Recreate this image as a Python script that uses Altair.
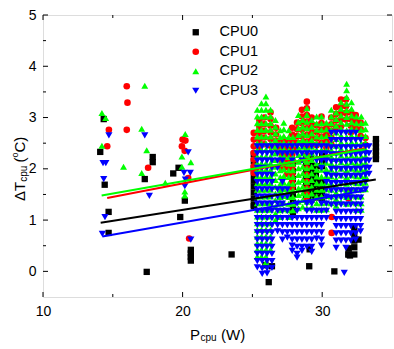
import altair as alt
import pandas as pd

SERIES = ["CPU0", "CPU1", "CPU2", "CPU3"]
COLORS = ["#000000", "#ff0000", "#00ff00", "#0000ff"]
SHAPES = ["square", "circle", "triangle-up", "triangle-down"]
SIZES = [40, 52, 72, 72]

# isolated points (x, y)
CPU0_POINTS = [(14.10, 2.33), (14.35, 2.97), (14.42, 1.69), (14.70, 1.16), (14.70, 0.75),
               (17.29, 1.80), (17.86, 2.23), (17.86, 2.13), (17.43, -0.01), (19.33, 1.91),
               (19.71, 2.02), (19.83, 1.06), (20.16, 1.38), (20.59, 0.42), (20.59, 0.35),
               (20.59, 0.28), (20.59, 0.21), (23.51, 0.33), (25.10, 1.27), (26.17, -0.21),
               (26.40, 0.10), (25.93, 0.12), (29.07, 0.10), (29.10, 0.43), (30.87, 0.00),
               (31.87, 0.33), (31.99, 0.31), (32.60, 0.62)]
CPU1_POINTS = [(16.00, 3.61), (16.05, 3.29), (14.72, 2.76), (16.00, 2.76), (14.60, 2.44),
               (17.53, 2.02), (20.00, 2.57), (20.20, 2.55), (19.95, 2.44), (20.15, 2.35),
               (20.40, 1.82), (20.47, 0.64), (30.68, 1.06), (30.68, 0.75), (31.90, 1.55),
               (31.90, 1.42)]
CPU2_POINTS = [(14.22, 3.09), (14.49, 2.99), (17.29, 3.62), (17.07, 2.78), (14.22, 2.45),
               (17.43, 2.36), (15.77, 2.04), (17.07, 1.92), (18.76, 1.73), (20.19, 2.68),
               (19.95, 2.24), (20.59, 2.13), (19.95, 2.04), (20.16, 1.56), (20.16, 1.48)]
CPU3_POINTS = [(14.30, 2.11), (14.50, 2.11), (14.72, 2.65), (17.29, 2.65), (14.35, 1.80),
               (17.62, 1.47), (14.44, 1.06), (14.25, 0.73), (20.40, 2.32), (20.10, 1.92),
               (20.55, 1.92), (20.20, 1.79), (20.16, 1.66), (20.59, 0.62), (31.58, -0.03)]

# dense columns (x, [y values])
CPU0_COLUMNS = [
    (25.10, [2.28, 2.15, 2.02, 1.90, 1.78, 1.66, 1.54, 1.42, 1.30]),
    (27.90, [2.10, 1.95, 1.80, 1.65, 1.50, 1.35, 1.22, 1.10]),
    (28.85, [2.20, 2.08, 1.96, 1.84, 1.72, 1.60, 1.48]),
    (29.20, [2.25, 2.12, 2.00, 1.88, 1.76, 1.64, 1.52, 1.40]),
    (29.55, [2.05, 1.92, 1.80, 1.68, 1.56, 1.44]),
    (30.00, [2.28, 2.15, 2.05, 1.76, 1.64, 1.52, 1.40]),
    (31.90, [0.45, 0.33]),
    (32.30, [0.85, 0.72, 0.60, 0.47, 0.33]),
    (33.85, [2.58, 2.50, 2.42, 2.34, 2.26, 2.19]),
]
CPU1_COLUMNS = [
    (25.10, [2.70, 2.57, 2.44, 2.31, 2.18, 2.05, 1.92]),
    (25.50, [2.95, 2.82, 2.69, 2.56, 2.43]),
    (25.85, [3.00, 2.87, 2.74, 2.61, 2.48]),
    (26.30, [3.10, 2.97, 2.84, 2.71, 2.58, 2.45]),
    (26.70, [2.80, 2.67, 2.54, 2.41]),
    (27.10, [2.55, 2.42, 2.29, 2.16, 2.03]),
    (27.50, [2.55, 2.42, 2.29, 2.16, 2.03, 1.90]),
    (27.85, [2.80, 2.67, 2.54, 2.41, 2.28, 2.15, 2.02, 1.89, 1.76, 1.63]),
    (28.20, [2.90, 2.77, 2.64, 2.51, 2.38]),
    (28.55, [3.15, 3.02, 2.89, 2.76, 2.63, 2.50]),
    (28.90, [3.31, 3.18, 3.05, 2.92, 2.79, 2.66, 2.53, 2.40, 2.27, 2.14, 2.01, 1.88, 1.75, 1.62, 1.50, 1.38]),
    (29.25, [3.00, 2.87, 2.74, 2.61, 2.48]),
    (29.60, [2.85, 2.72, 2.59, 2.46]),
    (29.95, [3.02, 2.89, 2.76, 2.63, 2.50]),
    (30.30, [2.80, 2.67, 2.54, 2.41]),
    (30.65, [3.00, 2.87, 2.74, 2.61, 2.48]),
    (31.00, [3.20, 3.07, 2.94, 2.81]),
    (31.35, [3.35, 3.22, 3.09, 2.96, 2.83]),
    (31.70, [3.35, 3.22, 3.09, 2.96]),
    (32.05, [3.10, 2.97, 2.84, 2.71]),
    (32.40, [3.05, 2.92, 2.79]),
    (32.75, [2.90, 2.77, 2.64]),
    (33.10, [2.60, 2.47]),
]
CPU2_COLUMNS = [
    (25.35, [3.15, 3.02, 2.89, 2.76, 2.63, 2.50, 2.37, 2.24, 2.11, 1.98, 1.85, 1.72, 1.59, 1.46, 1.33, 1.20, 1.07, 0.94, 0.81, 0.68, 0.55, 0.42, 0.29]),
    (25.65, [3.28, 3.15, 3.02, 2.89, 2.76, 2.63, 2.50, 2.37, 2.24, 2.11, 1.98, 1.85, 1.72, 1.59, 1.46, 1.33, 1.20, 1.07, 0.94, 0.81, 0.68, 0.55, 0.42, 0.29]),
    (25.97, [3.41, 3.28, 3.15, 3.02, 2.89, 2.76, 2.63, 2.50, 2.37, 2.24, 2.11, 1.98, 1.85, 1.72, 1.59, 1.46, 1.33, 1.20, 1.07, 0.94, 0.81, 0.68, 0.55, 0.42, 0.29, 0.18]),
    (26.30, [3.15, 3.02, 2.89, 2.76, 2.63, 2.50, 2.37, 2.24, 2.11, 1.98, 1.85, 1.72, 1.59, 1.46, 1.33, 1.20, 1.07, 0.94, 0.81, 0.68, 0.55, 0.42]),
    (26.65, [2.95, 2.82, 2.69, 2.56, 2.43, 2.30, 2.17, 2.04, 1.91, 1.78, 1.65, 1.52, 1.39, 1.26, 1.13, 1.00]),
    (27.00, [2.75, 2.62, 2.49, 2.36, 2.23, 2.10, 1.97, 1.84, 1.71, 1.58, 1.45, 1.32, 1.19, 1.06]),
    (27.25, [2.90, 2.77, 2.64, 2.51, 2.38, 2.25, 2.12, 1.99, 1.86, 1.73, 1.60, 1.47, 1.34, 1.21]),
    (27.60, [2.75, 2.62, 2.49, 2.36, 2.23, 2.10, 1.97, 1.84, 1.71, 1.58, 1.45, 1.32, 1.19, 1.06]),
    (27.90, [2.62, 2.49, 2.36, 2.23, 2.10, 1.97, 1.84, 1.71, 1.58, 1.45, 1.32, 1.19]),
    (28.30, [3.05, 2.92, 2.79, 2.66, 2.53, 2.40, 2.27, 2.14, 2.01, 1.88, 1.75, 1.62, 1.49, 1.36, 1.23]),
    (28.60, [2.95, 2.82, 2.69, 2.56, 2.43, 2.30, 2.17, 2.04, 1.91, 1.78, 1.65, 1.52, 1.39, 1.26]),
    (28.90, [3.18, 3.05, 2.92, 2.79, 2.66, 2.53, 2.40, 2.27, 2.14, 2.01, 1.88, 1.75, 1.62, 1.49, 1.36, 1.23]),
    (29.25, [2.95, 2.82, 2.69, 2.56, 2.43, 2.30, 2.17, 2.04, 1.91, 1.78, 1.65, 1.52, 1.39, 1.26]),
    (29.60, [3.02, 2.89, 2.76, 2.63, 2.50, 2.37, 2.24, 2.11, 1.98, 1.85, 1.72, 1.59, 1.46, 1.33, 1.20]),
    (29.95, [3.02, 2.89, 2.76, 2.63, 2.50, 2.37, 2.24, 2.11, 1.98, 1.85, 1.72, 1.59, 1.46, 1.33, 1.20]),
    (30.30, [2.90, 2.77, 2.64, 2.51, 2.38, 2.25, 2.12, 1.99, 1.86, 1.73, 1.60, 1.47, 1.34, 1.21]),
    (30.65, [3.15, 3.02, 2.89, 2.76, 2.63, 2.50, 2.37, 2.24, 2.11, 1.98, 1.85, 1.72, 1.59, 1.46, 1.33]),
    (31.00, [3.10, 2.97, 2.84, 2.71, 2.58, 2.45, 2.32, 2.19, 2.06, 1.93, 1.80, 1.67, 1.54, 1.41, 1.28]),
    (31.35, [3.30, 3.17, 3.04, 2.91, 2.78, 2.65, 2.52, 2.39, 2.26, 2.13, 2.00, 1.87, 1.74, 1.61, 1.48, 1.35]),
    (31.75, [3.66, 3.53, 3.40, 3.27, 3.14, 3.01, 2.88, 2.75, 2.62, 2.49, 2.36, 2.23, 2.10, 1.97, 1.84, 1.71, 1.58, 1.45, 1.32]),
    (32.10, [3.30, 3.17, 3.04, 2.91, 2.78, 2.65, 2.52, 2.39, 2.26, 2.13, 2.00, 1.87, 1.74, 1.61, 1.48, 1.35]),
    (32.45, [3.02, 2.89, 2.76, 2.63, 2.50, 2.37, 2.24, 2.11, 1.98, 1.85, 1.72, 1.59, 1.46, 1.33, 1.20]),
    (32.80, [3.02, 2.89, 2.76, 2.63, 2.50, 2.37, 2.24, 2.11, 1.98, 1.85, 1.72, 1.59, 1.46, 1.33, 1.20]),
    (33.10, [2.90, 2.77, 2.64, 2.51, 2.38, 2.25, 2.12, 1.99, 1.86, 1.73, 1.60]),
]
CPU3_COLUMNS = [
    (25.35, [2.44, 2.30, 2.16, 2.02, 1.88, 1.74, 1.60, 1.46, 1.32, 1.18, 1.04, 0.90, 0.76, 0.62, 0.48, 0.34, 0.20, 0.08]),
    (25.70, [2.44, 2.30, 2.16, 2.02, 1.88, 1.74, 1.60, 1.46, 1.32, 1.18, 1.04, 0.90, 0.76, 0.62, 0.48, 0.34, 0.20, 0.06, -0.05]),
    (26.05, [2.44, 2.30, 2.16, 2.02, 1.88, 1.74, 1.60, 1.46, 1.32, 1.18, 1.04, 0.90, 0.76, 0.62, 0.48, 0.34, 0.20, 0.06, -0.04]),
    (26.40, [2.44, 2.30, 2.16, 2.02, 1.88, 1.74, 1.60, 1.46, 1.32, 1.18, 1.04, 0.90, 0.76, 0.62, 0.48, 0.34, 0.20, 0.07]),
    (26.80, [2.44, 2.30, 2.16, 2.02, 1.60, 1.46, 1.32, 1.18, 1.04, 0.90, 0.78]),
    (27.15, [2.44, 2.30, 2.16, 1.74, 1.60, 1.46, 1.32, 1.18, 1.04, 0.90, 0.76, 0.62]),
    (27.50, [2.44, 2.30, 1.60, 1.46, 1.18, 1.04, 0.90, 0.76, 0.66]),
    (27.85, [2.44, 2.30, 2.16, 1.04, 0.90, 0.76, 0.62, 0.50, 0.40]),
    (28.20, [2.44, 2.30, 1.32, 1.18, 1.04, 0.90, 0.76, 0.62, 0.48, 0.34, 0.27]),
    (28.55, [2.44, 2.30, 2.16, 1.04, 0.90, 0.76, 0.62, 0.48, 0.40]),
    (28.90, [2.44, 2.30, 1.32, 1.18, 1.04, 0.90, 0.76, 0.62, 0.48]),
    (29.25, [2.44, 2.30, 1.32, 1.18, 1.04, 0.90, 0.76, 0.62, 0.48, 0.38]),
    (29.60, [2.44, 2.30, 2.16, 1.18, 1.04, 0.90, 0.76, 0.64]),
    (29.95, [2.44, 2.30, 2.16, 2.02, 1.32, 1.18, 1.04, 0.90, 0.76, 0.62, 0.50]),
    (30.30, [2.44, 2.30, 2.16, 1.88, 1.74, 1.60, 1.46, 1.32, 1.18, 1.04]),
    (30.65, [2.70, 2.56, 2.42, 2.28, 2.14, 2.00, 1.86, 1.72, 1.58, 1.44, 1.30]),
    (31.00, [2.70, 2.56, 2.42, 2.28, 2.14, 2.00, 1.86, 1.72, 1.58, 1.44, 1.30, 1.16, 1.02, 0.88, 0.74, 0.60, 0.46]),
    (31.35, [2.70, 2.56, 2.42, 2.28, 2.14, 2.00, 1.86, 1.72, 1.58, 1.44, 1.30, 1.16, 1.02, 0.88, 0.74, 0.60]),
    (31.70, [2.70, 2.56, 2.42, 2.28, 2.14, 2.00, 1.86, 1.72, 1.58, 1.44, 1.30, 1.16, 1.02, 0.88, 0.74, 0.60, 0.46]),
    (32.05, [2.70, 2.56, 2.42, 2.28, 2.14, 2.00, 1.86, 1.72, 1.58, 1.44, 1.30, 1.16, 1.02, 0.88, 0.74, 0.60]),
    (32.40, [2.70, 2.56, 2.42, 2.28, 2.14, 2.00, 1.86, 1.72, 1.58, 1.44, 1.30, 1.16, 1.02, 0.88, 0.74, 0.62]),
    (32.75, [2.56, 2.42, 2.28, 2.14, 2.00, 1.86, 1.72, 1.58, 1.44, 1.30, 1.16, 1.02, 0.88, 0.78]),
    (33.10, [2.44, 2.30, 2.16, 2.02, 1.88, 1.74, 1.60]),
    (33.35, [2.44, 2.30, 2.16, 2.02, 1.90]),
]

# fitted lines: (x_start, y_start, x_end, y_end)
FIT_LINES = {
    "CPU0": (14.13, 0.95, 33.84, 1.79),
    "CPU1": (14.60, 1.43, 33.05, 2.40),
    "CPU2": (14.20, 1.48, 33.05, 2.38),
    "CPU3": (14.25, 0.68, 33.17, 1.58),
}

X_MAJOR = [10, 20, 30]
X_MINOR = [15, 25]
Y_MAJOR = [0, 1, 2, 3, 4, 5]
Y_MINOR = [0.5, 1.5, 2.5, 3.5, 4.5]

W, H = 349, 282
FONT = "Liberation Sans"

rows = []
for name, pts, cols in [("CPU0", CPU0_POINTS, CPU0_COLUMNS), ("CPU1", CPU1_POINTS, CPU1_COLUMNS),
                        ("CPU2", CPU2_POINTS, CPU2_COLUMNS), ("CPU3", CPU3_POINTS, CPU3_COLUMNS)]:
    for x, y in pts:
        rows.append({"series": name, "x": x, "y": y})
    for x, ys in cols:
        for y in ys:
            rows.append({"series": name, "x": x, "y": y})
pts_df = pd.DataFrame(rows)
pts_df["order"] = range(len(pts_df))

line_rows = []
for name in SERIES:
    x0, y0, x1, y1 = FIT_LINES[name]
    line_rows.append({"series": name, "x": x0, "y": y0})
    line_rows.append({"series": name, "x": x1, "y": y1})
line_df = pd.DataFrame(line_rows)

xs = alt.Scale(domain=[10, 35], nice=False, zero=False)
ys = alt.Scale(domain=[-0.5, 5], nice=False, zero=False)
col = alt.Scale(domain=SERIES, range=COLORS)

x_axis = alt.Axis(values=X_MAJOR, format="d", domain=False, ticks=False, grid=False, labelFontSize=14,
                  labelPadding=7, labelFlush=False, title=None, labelColor="black", labelFont=FONT)
y_axis = alt.Axis(values=Y_MAJOR, format="d", domain=False, ticks=False, grid=False, labelFontSize=14,
                  labelPadding=7, labelFlush=False, title=None, labelColor="black", labelFont=FONT)

legend = alt.Legend(title=None, orient="none", legendX=145.5, legendY=10, padding=0,
                    labelFontSize=14.5, labelFont=FONT, labelColor="black", symbolSize=55,
                    rowPadding=4.5, labelOffset=16.5, symbolStrokeWidth=0)

points = alt.Chart(pts_df).mark_point(filled=True, opacity=1, strokeWidth=0).encode(
    x=alt.X("x:Q", scale=xs, axis=x_axis),
    y=alt.Y("y:Q", scale=ys, axis=y_axis),
    color=alt.Color("series:N", scale=col, legend=legend),
    shape=alt.Shape("series:N", scale=alt.Scale(domain=SERIES, range=SHAPES), legend=legend),
    size=alt.Size("series:N", scale=alt.Scale(domain=SERIES, range=SIZES), legend=None),
    order=alt.Order("order:Q"),
)

lines = alt.Chart(line_df).mark_line(strokeWidth=2).encode(
    x=alt.X("x:Q", scale=xs),
    y=alt.Y("y:Q", scale=ys),
    color=alt.Color("series:N", scale=col, legend=None),
    detail="series:N",
)

def xticks(vals, length):
    d = pd.DataFrame({"v": vals})
    b = alt.Chart(d).mark_rule(color="black", strokeWidth=1).encode(
        x=alt.X("v:Q", scale=xs), y=alt.value(H), y2=alt.value(H - length))
    t = alt.Chart(d).mark_rule(color="black", strokeWidth=1).encode(
        x=alt.X("v:Q", scale=xs), y=alt.value(0), y2=alt.value(length))
    return [b, t]

def yticks(vals, length):
    d = pd.DataFrame({"v": vals})
    l = alt.Chart(d).mark_rule(color="black", strokeWidth=1).encode(
        y=alt.Y("v:Q", scale=ys), x=alt.value(0), x2=alt.value(length))
    r = alt.Chart(d).mark_rule(color="black", strokeWidth=1).encode(
        y=alt.Y("v:Q", scale=ys), x=alt.value(W), x2=alt.value(W - length))
    return [l, r]

one = pd.DataFrame({"k": [0]})

def txt(s, x, y, size, angle=0):
    kw = dict(align="left", baseline="alphabetic", fontSize=size, font=FONT, color="black")
    if angle:
        kw["angle"] = angle
    return alt.Chart(one).mark_text(**kw).encode(text=alt.value(s), x=alt.value(x), y=alt.value(y))

titles = [
    txt("P", 147, 325, 15),
    txt("cpu", 157.5, 326, 10),
    txt("(W)", 178, 325, 15),
    txt("\u0394T", -18, 186, 15, 270),
    txt("cpu", -16.5, 166.8, 10, 270),
    txt("(", -18, 147.5, 15, 270),
    txt("o", -25, 142.5, 9, 270),
    txt("C)", -18, 137.5, 15, 270),
]

layers = [points, lines] + xticks(X_MAJOR, 5) + xticks(X_MINOR, 3) + yticks(Y_MAJOR, 5) + yticks(Y_MINOR, 3) + titles

chart = alt.layer(*layers).resolve_scale(color="shared").properties(
    width=W, height=H,
    autosize=alt.AutoSizeParams(type="none"),
    padding={"left": 43, "top": 15, "right": 2, "bottom": 52},
).configure_view(stroke="black", strokeWidth=1).configure(font=FONT)

chart.save("out.html", embed_options={"renderer": "svg", "actions": False})
